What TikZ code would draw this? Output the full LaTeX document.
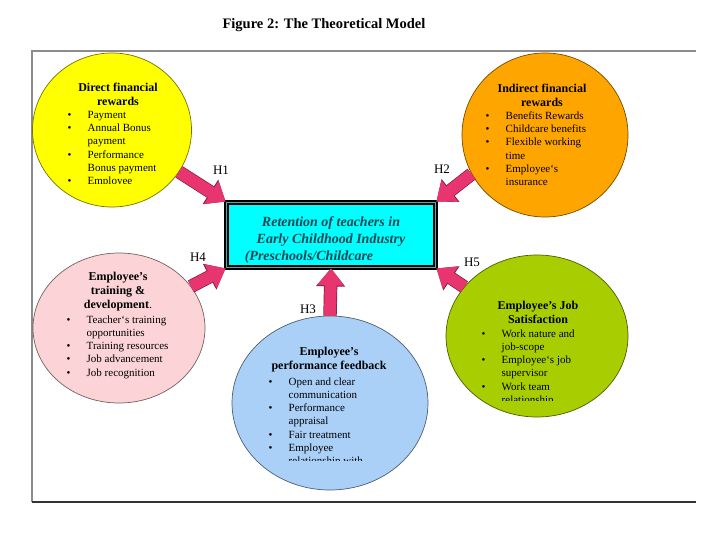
\documentclass[tikz,border=0pt]{standalone}
\usepackage{fontspec}
\setmainfont{Liberation Serif}
\usetikzlibrary{arrows.meta}
\usetikzlibrary{shapes.geometric}
\definecolor{dfrfill}{HTML}{FFFF00}
\definecolor{ifrfill}{HTML}{FFA500}
\definecolor{tedfill}{HTML}{FCD4D7}
\definecolor{pfbfill}{HTML}{AAD0F8}
\definecolor{jsafill}{HTML}{A8CE02}
\definecolor{boxfill}{HTML}{00FFFF}
\definecolor{boxtext}{HTML}{1A4552}
\definecolor{arrowpink}{HTML}{E8356F}
\definecolor{framegray}{HTML}{8C8C8C}
\tikzset{factor/.style = {ellipse, draw=#1!45!black, fill=#1, line width=0.7pt, inner sep=0},
  head/.style = {font=\fontsize{12}{14}\selectfont\bfseries, align=center, inner sep=0},
  items/.style = {font=\fontsize{11}{13.2}\selectfont, align=left, anchor=north west, inner sep=0},
  hyp/.style = {font=\fontsize{13}{15}\selectfont, inner sep=0},
  link/.style = {preaction={draw=arrowpink!55!black, line width=13.4pt, -{Triangle[length=18pt,width=28pt]}},
    draw=arrowpink, line width=12pt, -{Triangle[length=17pt,width=26pt]}}}
\newcommand{\bul}{\makebox[20pt][l]{\textbullet}}
\newcommand{\ind}{\hspace*{20pt}}

\begin{document}
\begin{tikzpicture}[x=1pt, y=-1pt]
    \useasboundingbox (0,0) rectangle (720,540);
    \node [font=\fontsize{14.5}{17}\selectfont\bfseries] (title) at (324,25) {Figure 2: The Theoretical Model};
    % frame
    \draw [framegray, line width=1.2pt] (696,51) -- (32,51) -- (32,502);
    \draw [black!80, line width=1.2pt] (32,502) -- (696,502);
    % the five factors
    \node [factor=dfrfill, minimum width=159pt, minimum height=154pt] (dfr) at (112,130) {};
    \node [factor=ifrfill, minimum width=166pt, minimum height=164pt] (ifr) at (545,135) {};
    \node [factor=tedfill, minimum width=172pt, minimum height=150pt] (ted) at (119,328) {};
    \node [factor=pfbfill, minimum width=196pt, minimum height=174pt] (pfb) at (330,403) {};
    \node [factor=jsafill, minimum width=182pt, minimum height=162pt] (jsa) at (537,336) {};
    \node [head] (dfrhead) at (118,94) {Direct financial\\rewards};
    \begin{scope}
      \clip (0,0) rectangle (720,184);
      \node [items] (dfritems) at (67.5,111) {\bul Payment\\\bul Annual Bonus\\\ind payment\\\bul Performance\\\ind Bonus payment\\\bul Employee};
    \end{scope}
    \node [head] (ifrhead) at (542,95) {Indirect financial\\rewards};
    \node [items] (ifritems) at (485.5,111.5) {\bul Benefits Rewards\\\bul Childcare benefits\\\bul Flexible working\\\ind time\\\bul Employee`s\\\ind insurance};
    \node [head] (tedhead) at (118,292) {Employee’s\\training \&\\development\textmd{.}};
    \node [items] (teditems) at (66.5,315.5) {\bul Teacher`s training\\\ind opportunities\\\bul Training resources\\\bul Job advancement\\\bul Job recognition};
    \node [head] (pfbhead) at (329,360) {Employee’s\\performance feedback};
    \begin{scope}
      \clip (0,0) rectangle (720,460);
      \node [items] (pfbitems) at (268.5,377.5) {\bul Open and clear\\\ind communication\\\bul Performance\\\ind appraisal\\\bul Fair treatment\\\bul Employee\\\ind relationship with};
    \end{scope}
    \node [head] (jsahead) at (538,312) {Employee’s Job\\Satisfaction};
    \begin{scope}
      \clip (0,0) rectangle (720,400.5);
      \node [items] (jsaitems) at (481.5,329.5) {\bul Work nature and\\\ind job-scope\\\bul Employee`s job\\\ind supervisor\\\bul Work team\\\ind relationship};
    \end{scope}
    % retention box
    \node [draw=black, double=boxfill!35!gray, double distance=1pt, line width=1.8pt, fill=boxfill,
      minimum width=209pt, minimum height=65pt, inner sep=0] (ret) at (331,235) {};
    \node [font=\fontsize{14}{17}\selectfont\bfseries\itshape, text=boxtext, align=center, inner sep=0] (rettext) at (331,240)
      {Retention of teachers in\\Early Childhood Industry\\(Preschools/Childcare\hspace*{44pt}};
    % hypotheses
    \draw [link] (dfr.-32) -- (ret.north west);
    \draw [link] (ifr.-152) -- (ret.north east);
    \draw [link] (ted.30) -- (ret.south west);
    \draw [link] (pfb.north) -- (ret.south);
    \draw [link] (jsa.146) -- (ret.south east);
    \node [hyp] (h1) at (221,170) {H1};
    \node [hyp] (h2) at (442,169) {H2};
    \node [hyp] (h3) at (308,309) {H3};
    \node [hyp] (h4) at (198,257) {H4};
    \node [hyp] (h5) at (472,262) {H5};
  \end{tikzpicture}
\end{document}
